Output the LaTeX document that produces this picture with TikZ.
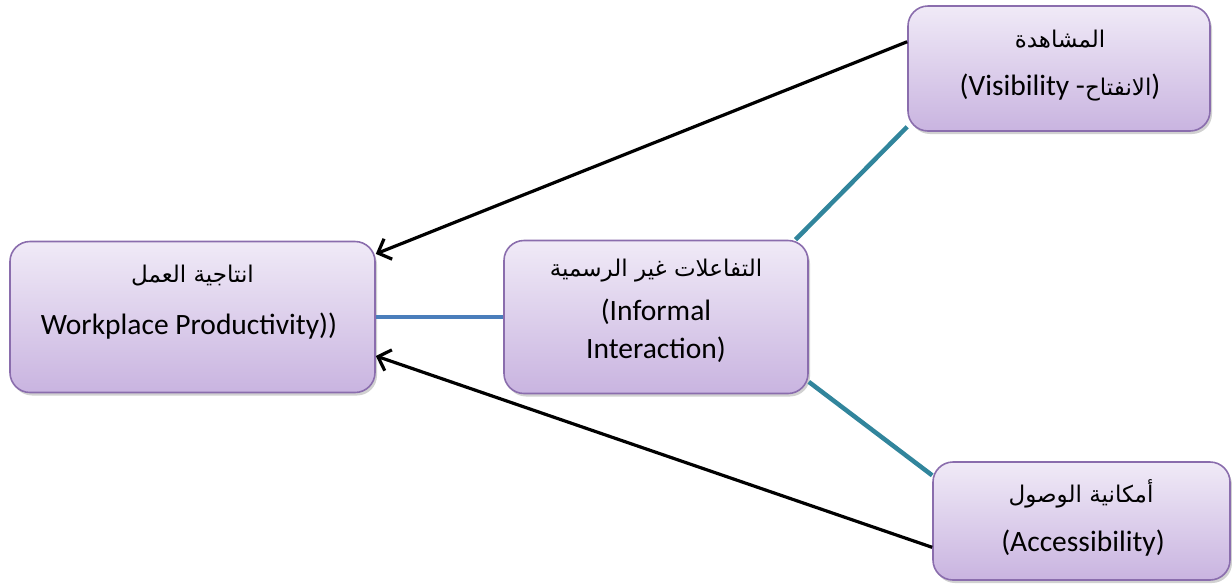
\documentclass[tikz,border=0pt]{standalone}
\usepackage{fontspec}
\setmainfont{Carlito}
\newfontfamily\arabicfont[Script=Arabic]{DejaVu Sans}
\TeXXeTstate=1
\usetikzlibrary{arrows.meta,shadows}
\definecolor{boxtop}{HTML}{F0EAF7}
\definecolor{boxbot}{HTML}{C9B4E0}
\definecolor{boxline}{HTML}{8A6DAD}
\definecolor{blueline}{HTML}{4A7EBB}
\definecolor{tealline}{HTML}{31859C}
\tikzset{
  box/.style={draw=boxline, line width=1.6pt, rounded corners=20pt,
    top color=boxtop, bottom color=boxbot, inner sep=0pt,
    drop shadow={shadow xshift=2pt, shadow yshift=-3pt, opacity=0.3, fill=black!60}},
  lat/.style={font=\fontsize{29.5}{34}\selectfont, inner sep=0pt},
  arb/.style={font=\arabicfont\fontsize{23}{27}\selectfont, inner sep=0pt},
  arr/.style={line width=3.2pt, -{Straight Barb[length=11pt,width=22pt,line width=3.2pt]}},
  blu/.style={blueline, line width=4.5pt},
  tea/.style={tealline, line width=4.5pt}
}
\begin{document}
\begin{tikzpicture}[x=1pt,y=-1pt]
\useasboundingbox (0,0) rectangle (1232,587);
\node[box, minimum width=365pt, minimum height=151pt] (A) at (192.5,317) {};
\node[box, minimum width=304pt, minimum height=153pt] (B) at (656,317) {};
\node[box, minimum width=302pt, minimum height=125pt] (C) at (1059,68.5) {};
\node[box, minimum width=297pt, minimum height=118pt] (D) at (1081.5,521) {};

\node[arb] (A1) at (192.5,276) {\beginR انتاجية العمل\endR};
\node[lat] (A2) at (189,326) {Workplace Productivity))};

\node[arb] (B1) at (656,271) {\beginR التفاعلات غير الرسمية\endR};
\node[lat] (B2) at (656,312) {(Informal};
\node[lat] (B3) at (656,350) {Interaction)};

\node[arb] (C1) at (1060,39) {\beginR المشاهدة\endR};
\node[lat] (C2) at (1060,88) {(Visibility -{\arabicfont\fontsize{23}{27}\selectfont\beginR الانفتاح\endR})};

\node[arb] (D1) at (1081,494) {\beginR أمكانية الوصول\endR};
\node[lat] (D2) at (1083,543) {(Accessibility)};

\draw[blu] (A.east) -- (B.west);
\draw[tea] (B.29) -- (C.201);
\draw[tea] (B.-23) -- (D.163);
\draw[arr] (C.170) -- (A.19);
\draw[arr] (D.190) -- (A.-12);
\end{tikzpicture}
\end{document}
